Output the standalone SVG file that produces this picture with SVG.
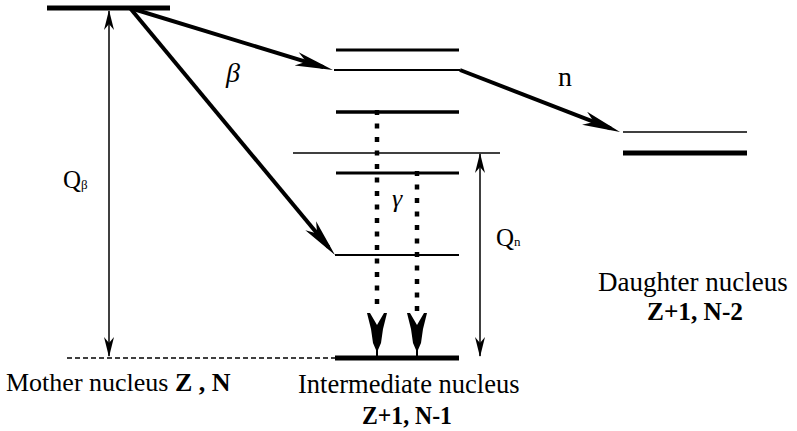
<svg xmlns="http://www.w3.org/2000/svg" width="797" height="431" viewBox="0 0 797 431">
<style>
.lvl{stroke:#000;fill:none}
.txt{font-family:'Liberation Serif','DejaVu Serif','Times New Roman',serif;fill:#000}
.thick{stroke:#000;stroke-width:4;fill:none}
.thin{stroke:#000;stroke-width:1.5;fill:none}
.dot{stroke:#000;stroke-width:4.5;stroke-dasharray:5 8.5;fill:none}
</style>
<defs>
<marker id="bigHead" markerUnits="userSpaceOnUse" orient="auto" refX="-10" refY="0" markerWidth="50" markerHeight="20" viewBox="-40 -10 50 20" overflow="visible">
<path d="M0,0 L-38,-7 L-28,0 L-38,7 Z" fill="#000"/>
</marker>
<marker id="smallHead" markerUnits="userSpaceOnUse" orient="auto-start-reverse" refX="-1" refY="0" markerWidth="30" markerHeight="14" viewBox="-22 -7 30 14" overflow="visible">
<path d="M0,0 L-20,-5 L-14,0 L-20,5 Z" fill="#000"/>
</marker>
<path id="gHead" d="M-10,0 L-7,0 L0,12 L7,0 L10,0 L6,16 L4,30 L1,37 L1,45 L-1,45 L-1,37 L-4,30 L-6,16 Z" fill="#000"/>
</defs>

<g id="mother">
<line class="lvl" x1="47" y1="8" x2="170" y2="8" stroke-width="5"/>
<text class="txt" x="6" y="391" font-size="26" font-family="Liberation Serif, serif">Mother nucleus <tspan font-weight="bold">Z , N</tspan></text>
</g>

<g id="intermediate">
<line class="lvl" x1="336" y1="50" x2="459" y2="50" stroke-width="3"/>
<line class="lvl" x1="334" y1="70" x2="460" y2="70" stroke-width="2"/>
<line class="lvl" x1="336" y1="112" x2="459" y2="112" stroke-width="3.5"/>
<line class="lvl" x1="293" y1="153" x2="500" y2="153" stroke-width="1.5"/>
<line class="lvl" x1="336" y1="173" x2="459" y2="173" stroke-width="3"/>
<line class="lvl" x1="335" y1="255" x2="459" y2="255" stroke-width="2"/>
<line class="lvl" x1="335" y1="358" x2="459" y2="358" stroke-width="5"/>
<text class="txt" x="298" y="393" font-size="26.5">Intermediate nucleus</text>
<text class="txt" x="407" y="424" font-size="25" font-weight="bold" text-anchor="middle" textLength="90" lengthAdjust="spacingAndGlyphs">Z+1, N-1</text>
</g>

<g id="daughter">
<line class="lvl" x1="623" y1="132" x2="747" y2="132" stroke-width="1.5"/>
<line class="lvl" x1="623" y1="153" x2="747" y2="153" stroke-width="5"/>
<text class="txt" x="598" y="291" font-size="27">Daughter nucleus</text>
<text class="txt" x="695" y="320" font-size="25" font-weight="bold" text-anchor="middle" textLength="96" lengthAdjust="spacingAndGlyphs">Z+1, N-2</text>
</g>

<g id="connectors">
<line class="thin" x1="67" y1="358" x2="335" y2="358" stroke-dasharray="5 3"/>
<line class="thick" x1="130" y1="8" x2="323.4" y2="67.1" marker-end="url(#bigHead)"/>
<line class="thick" x1="130" y1="8" x2="328.6" y2="247.3" marker-end="url(#bigHead)"/>
<line class="thick" x1="460" y1="70" x2="610.7" y2="128.4" marker-end="url(#bigHead)"/>
<line class="thin" x1="109" y1="11" x2="109" y2="356" marker-start="url(#smallHead)" marker-end="url(#smallHead)"/>
<line class="thin" x1="480" y1="154" x2="480" y2="356" marker-start="url(#smallHead)" marker-end="url(#smallHead)"/>
<line class="dot" x1="377" y1="110" x2="377" y2="312"/>
<line class="dot" x1="417" y1="171" x2="417" y2="312"/>
<use href="#gHead" x="377" y="313"/>
<use href="#gHead" x="417" y="313"/>
</g>

<g id="labels">
<text class="txt" x="226" y="82" font-size="28" font-style="italic">β</text>
<text class="txt" x="558" y="86" font-size="28">n</text>
<text class="txt" x="392" y="207" font-size="26" font-style="italic">γ</text>
<text class="txt" x="63" y="188" font-size="25">Q<tspan font-size="13" dy="1">β</tspan></text>
<text class="txt" x="496" y="246" font-size="25">Q<tspan font-size="13" dy="0">n</tspan></text>
</g>
</svg>
